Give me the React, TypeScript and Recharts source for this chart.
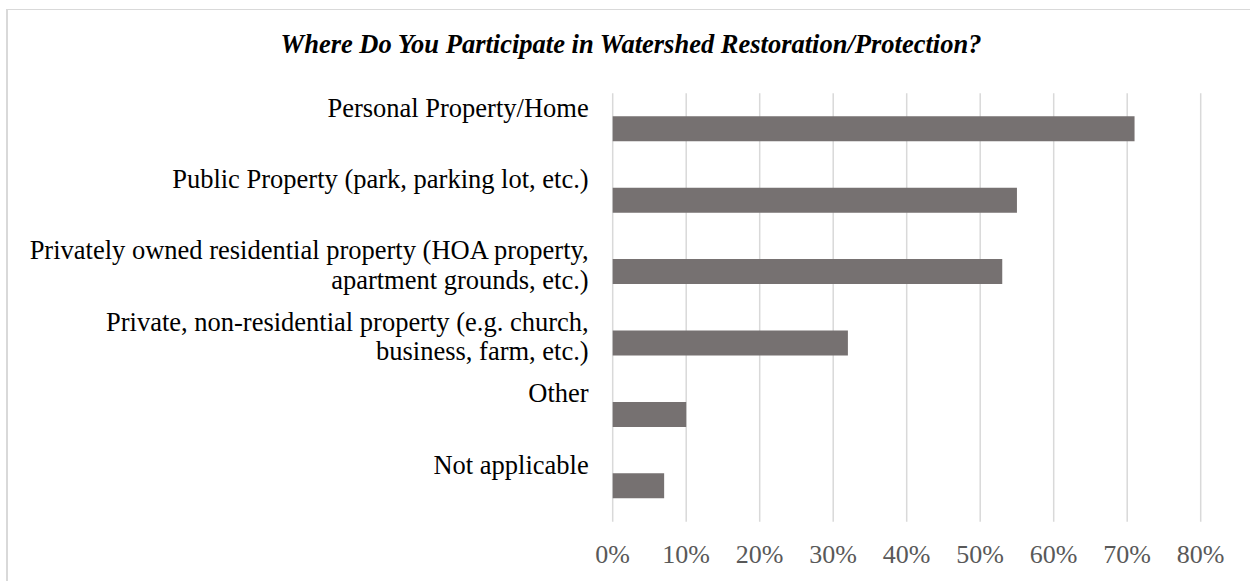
import React from "react";
import { BarChart, Bar, XAxis, YAxis, CartesianGrid } from "recharts";

const categories: string[] = [
  "Personal Property/Home",
  "Public Property (park, parking lot, etc.)",
  "Privately owned residential property (HOA property,\napartment grounds, etc.)",
  "Private, non-residential property (e.g. church,\nbusiness, farm, etc.)",
  "Other",
  "Not applicable",
];
const shares: number[] = [0.71, 0.55, 0.53, 0.32, 0.1, 0.07];
const xTicks: number[] = [0, 0.1, 0.2, 0.3, 0.4, 0.5, 0.6, 0.7, 0.8];
const titleText = "Where Do You Participate in Watershed Restoration/Protection?";

const data = categories.map((c, i) => ({ category: c, value: shares[i] }));

const FONT = '"Liberation Serif", "Times New Roman", serif';

const CategoryTick = (props: any) => {
  const { x, y, payload } = props;
  const lines: string[] = String(payload.value).split("\n");
  return (
    <text
      x={x}
      y={y - 12.5}
      textAnchor="end"
      fontFamily={FONT}
      fontSize={26.5}
      fill="#000000"
    >
      {lines.map((ln, i) => (
        <tspan key={i} x={x} dy={i === 0 ? 0 : 29.5}>
          {ln}
        </tspan>
      ))}
    </text>
  );
};

const PercentTick = (props: any) => {
  const { x, y, payload } = props;
  return (
    <text
      x={x}
      y={y + 19}
      textAnchor="middle"
      fontFamily={FONT}
      fontSize={26}
      fill="#595959"
    >
      {`${Math.round(payload.value * 100)}%`}
    </text>
  );
};

export default function App() {
  return (
    <div
      style={{
        position: "fixed",
        left: 0,
        top: 0,
        width: 1250,
        height: 581,
        overflow: "hidden",
        background: "#ffffff",
      }}
    >
      <div
        style={{
          position: "absolute",
          left: 6,
          top: 9,
          width: 1400,
          height: 800,
          borderLeft: "2px solid #d9d9d9",
          borderTop: "1.5px solid #d9d9d9",
          boxSizing: "border-box",
        }}
      />
      <div style={{ position: "absolute", left: 0, top: 0 }}>
        <BarChart
          width={1250}
          height={581}
          data={data}
          layout="vertical"
          margin={{ top: 93.3, right: 49.3, bottom: 19.3, left: 0 }}
          barCategoryGap={0}
        >
          <CartesianGrid horizontal={false} stroke="#d9d9d9" strokeWidth={1.5} />
          <XAxis
            type="number"
            domain={[0, 0.8]}
            ticks={xTicks}
            axisLine={false}
            tickLine={false}
            tickSize={0}
            tickMargin={22}
            height={40}
            interval={0}
            tick={<PercentTick />}
          />
          <YAxis
            type="category"
            dataKey="category"
            width={612.7}
            axisLine={false}
            tickLine={false}
            tickSize={0}
            tickMargin={24}
            interval={0}
            tick={<CategoryTick />}
          />
          <Bar
            dataKey="value"
            fill="#767171"
            barSize={25}
            isAnimationActive={false}
          />
        </BarChart>
      </div>
      <svg
        width={1250}
        height={80}
        style={{ position: "absolute", left: 0, top: 0 }}
      >
        <text
          x={631}
          y={53}
          textAnchor="middle"
          fontFamily={FONT}
          fontSize={26.5}
          fontWeight="bold"
          fontStyle="italic"
          fill="#000000"
        >
          {titleText}
        </text>
      </svg>
    </div>
  );
}
